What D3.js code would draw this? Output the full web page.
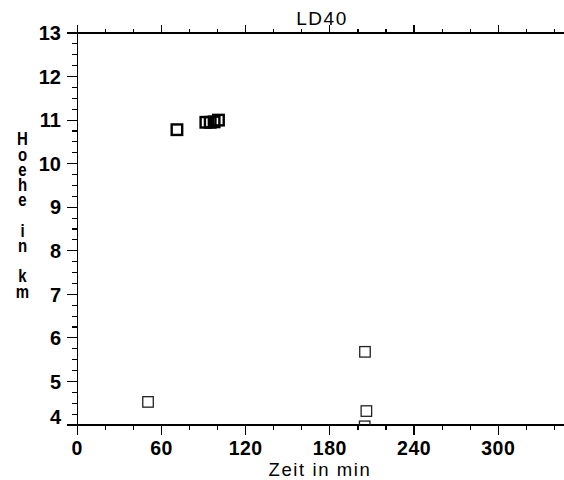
<!DOCTYPE html>
<html>
<head>
<meta charset="utf-8">
<script src="https://cdn.jsdelivr.net/npm/d3@7"></script>
<style>
  html, body { margin: 0; padding: 0; background: #fff; }
  svg { display: block; }
  .tick-label { font-family: "Liberation Sans", Arial, sans-serif; font-weight: bold; font-size: 20px; fill: #000; }
  .xtick { font-size: 19.5px; letter-spacing: 0.5px; }
  .title { font-family: "Liberation Sans", Arial, sans-serif; font-size: 19px; letter-spacing: 1.5px; fill: #000; }
  .axis-title { font-family: "Liberation Sans", Arial, sans-serif; font-size: 18.5px; letter-spacing: 1.6px; fill: #000; }
  .ylab { font-family: "Liberation Sans", Arial, sans-serif; font-weight: bold; font-size: 20px; letter-spacing: -6px;
          writing-mode: vertical-rl; text-orientation: upright; fill: #000; }
</style>
</head>
<body>
<div id="chart"></div>
<script>
// Flight profile LD40: altitude (km) against time (min)
const chartTitle = "LD40";
const xTitle = "Zeit in min";
const yTitle = "Hoehe in km";

// Cruise-level readings
const cruiseTime = [71, 91.6, 94.7, 97.5, 100.6];
const cruiseAlt  = [10.78, 10.95, 10.95, 10.96, 11.0];

// Low-level readings
const lowTime = [50.4, 205, 206, 204.8];
const lowAlt  = [4.53, 5.68, 4.32, 3.97];

const xMajorTicks = [0, 60, 120, 180, 240, 300];
const yMajorTicks = [4, 5, 6, 7, 8, 9, 10, 11, 12, 13];

const W = 564, H = 480;
const mLeft = 77.3, mTop = 33, mBottom = 425, mRight = 564;

const x = d3.scaleLinear().domain([0, 360]).range([mLeft, mLeft + 360 * 1.4033]);
const y = d3.scaleLinear().domain([4, 13]).range([mBottom, mTop]);

const svg = d3.select("#chart").append("svg")
  .attr("width", W).attr("height", H);

svg.append("defs").append("clipPath").attr("id", "plot")
  .append("rect").attr("x", mLeft).attr("y", mTop)
  .attr("width", mRight - mLeft).attr("height", mBottom - mTop);

const xMinor = d3.range(0, 361, 20);
const yMinor = d3.range(4, 13.001, 0.25);

const axes = svg.append("g").attr("stroke", "#000").attr("stroke-width", 1.2)
  .attr("shape-rendering", "crispEdges");

// frame lines
axes.append("line").attr("x1", mLeft - 10).attr("x2", mRight).attr("y1", mBottom).attr("y2", mBottom);
axes.append("line").attr("x1", mLeft - 10).attr("x2", mRight).attr("y1", mTop).attr("y2", mTop);
axes.append("line").attr("x1", mLeft).attr("x2", mLeft).attr("y1", mTop - 8).attr("y2", mBottom + 10);

// x ticks on bottom (downward) and top (upward)
xMinor.forEach(v => {
  const major = v % 60 === 0;
  const len = major ? 10 : 5;
  const px = x(v);
  if (px > mRight) return;
  axes.append("line").attr("x1", px).attr("x2", px).attr("y1", mBottom).attr("y2", mBottom + len);
  axes.append("line").attr("x1", px).attr("x2", px).attr("y1", mTop).attr("y2", mTop - (major ? 8 : 4));
});

// y ticks to the left
yMinor.forEach(v => {
  const major = Math.abs(v - Math.round(v)) < 1e-6;
  const py = y(v);
  axes.append("line").attr("x1", mLeft).attr("x2", mLeft - (major ? 10 : 5)).attr("y1", py).attr("y2", py);
});

// tick labels
svg.append("g").selectAll("text").data(xMajorTicks).join("text")
  .attr("class", "tick-label xtick")
  .attr("x", d => x(d)).attr("y", 455)
  .attr("text-anchor", "middle")
  .text(d => d);

svg.append("g").selectAll("text").data(yMajorTicks).join("text")
  .attr("class", "tick-label")
  .attr("x", 61)
  .attr("y", d => (d === 4 ? y(d) - 8 : y(d)))
  .attr("dy", "0.36em")
  .attr("text-anchor", "end")
  .text(d => d);

// titles
svg.append("text").attr("class", "title")
  .attr("x", 322).attr("y", 25).attr("text-anchor", "middle").text(chartTitle);

svg.append("text").attr("class", "axis-title")
  .attr("x", 320).attr("y", 476).attr("text-anchor", "middle").text(xTitle);

// vertical axis title: upright letters stacked top to bottom, narrow and tight
svg.append("text").attr("class", "ylab")
  .attr("transform", "translate(22.5,129) scale(0.75,0.9)")
  .attr("x", 0).attr("y", 0)
  .text(yTitle);

// data markers
const plot = svg.append("g").attr("clip-path", "url(#plot)");
const sq = 10.5;

plot.selectAll("rect.low").data(d3.zip(lowTime, lowAlt)).join("rect")
  .attr("class", "low")
  .attr("x", d => x(d[0]) - sq / 2).attr("y", d => y(d[1]) - sq / 2)
  .attr("width", sq).attr("height", sq)
  .attr("fill", "none").attr("stroke", "#222").attr("stroke-width", 1.3);

plot.selectAll("rect.cruise").data(d3.zip(cruiseTime, cruiseAlt)).join("rect")
  .attr("class", "cruise")
  .attr("x", d => x(d[0]) - sq / 2).attr("y", d => y(d[1]) - sq / 2)
  .attr("width", sq).attr("height", sq)
  .attr("fill", "none").attr("stroke", "#000").attr("stroke-width", 2.4);
</script>
</body>
</html>
